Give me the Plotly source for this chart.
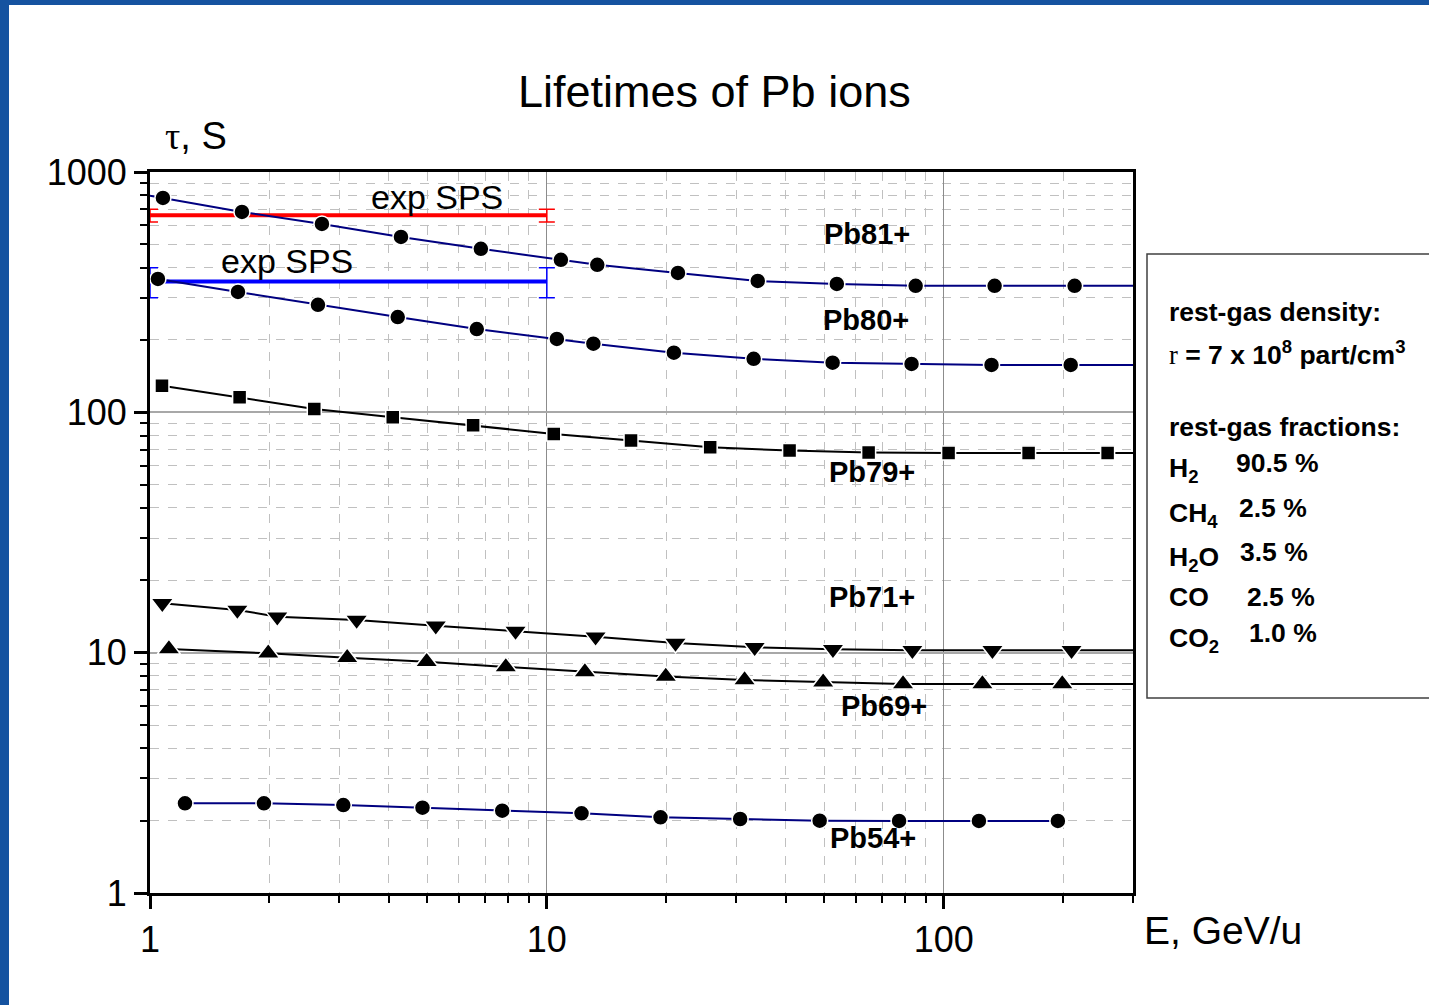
import math
import plotly.graph_objects as go

# ---------------- data: lifetime tau [s] vs energy E [GeV/u] ----------------
PB81_E = [1.078, 1.705, 2.712, 4.29, 6.82, 10.85, 13.4, 21.4, 34.0, 53.8, 85.0, 134.4, 213.8]
PB81_TAU = [780, 682, 608, 537, 479, 431, 411, 380, 352, 342, 336, 336, 336]
PB81_TAIL_E = [1.0, 300]
PB81_TAIL_TAU = [797, 336]

PB80_E = [1.047, 1.666, 2.65, 4.21, 6.66, 10.6, 13.1, 20.9, 33.2, 52.5, 83.0, 132, 209]
PB80_TAU = [359, 317, 280, 249, 222, 202, 193, 177, 167, 161, 159, 157.5, 157.5]
PB80_TAIL_E = [1.0, 300]
PB80_TAIL_TAU = [363, 157.5]

PB79_E = [1.072, 1.682, 2.594, 4.09, 6.52, 10.41, 16.3, 25.8, 40.9, 64.7, 102.9, 163.7, 258.9]
PB79_TAU = [129, 115.6, 103.3, 95.5, 88.4, 81.3, 76.3, 71.6, 69.3, 68.0, 67.8, 67.8, 67.8]
PB79_TAIL_E = [300]
PB79_TAIL_TAU = [67.8]

PB71_E = [1.074, 1.66, 2.093, 3.317, 5.25, 8.34, 13.27, 21.1, 33.4, 52.6, 83.4, 132.7, 210]
PB71_TAU = [16.05, 15.06, 14.12, 13.68, 12.95, 12.31, 11.66, 10.97, 10.53, 10.33, 10.23, 10.23, 10.23]
PB71_TAIL_E = [300]
PB71_TAIL_TAU = [10.23]

PB69_E = [1.116, 1.986, 3.14, 4.98, 7.88, 12.47, 19.94, 31.5, 49.7, 79.0, 125.2, 199]
PB69_TAU = [10.36, 9.94, 9.53, 9.17, 8.72, 8.31, 7.95, 7.70, 7.53, 7.41, 7.41, 7.41]
PB69_TAIL_E = [300]
PB69_TAIL_TAU = [7.41]

PB54_E = [1.225, 1.937, 3.07, 4.86, 7.72, 12.23, 19.34, 30.7, 48.7, 77.2, 122.7, 194]
PB54_TAU = [2.362, 2.362, 2.323, 2.265, 2.200, 2.146, 2.065, 2.032, 2.000, 1.994, 1.994, 1.994]
PB54_TAIL_E = []
PB54_TAIL_TAU = []

# measured SPS lifetimes (horizontal bands with error bars)
EXP_E = [1, 10]
EXP_RED_TAU = [660, 660]
EXP_RED_ERR = [40, 40]
EXP_BLUE_TAU = [350, 350]
EXP_BLUE_ERR = [50, 50]

X_TICKS = [1, 10, 100]
Y_TICKS = [1, 10, 100, 1000]
E_MAX = 300

GAS_ROWS = [
    ("H<sub>2</sub>", "90.5 %"),
    ("CH<sub>4</sub>", "2.5 %"),
    ("H<sub>2</sub>O", "3.5 %"),
    ("CO", "2.5 %"),
    ("CO<sub>2</sub>", "1.0 %"),
]

# ---------------- geometry helpers ----------------
W, H = 1429, 1005
PL, PR, PT, PB = 150, 1133, 172, 893


def paper(x, y):
    return (x - PL) / (PR - PL), (PB - y) / (PB - PT)


NAVY = "#000080"
FONT = "Arial, Liberation Sans, sans-serif"
SERIF = "Liberation Serif, Times New Roman, serif"

fig = go.Figure()

# experimental bands
for tau, err, col in [(EXP_RED_TAU, EXP_RED_ERR, "#ff0000"), (EXP_BLUE_TAU, EXP_BLUE_ERR, "#0000ff")]:
    fig.add_trace(go.Scatter(
        x=EXP_E, y=tau, mode="lines",
        line=dict(color=col, width=4),
        error_y=dict(type="data", array=err, visible=True, color=col, thickness=1.5, width=8),
        showlegend=False, hoverinfo="skip",
    ))

series = [
    (PB81_E, PB81_TAU, PB81_TAIL_E, PB81_TAIL_TAU, NAVY, "circle", 16),
    (PB80_E, PB80_TAU, PB80_TAIL_E, PB80_TAIL_TAU, NAVY, "circle", 16),
    (PB79_E, PB79_TAU, PB79_TAIL_E, PB79_TAIL_TAU, "black", "square", 14),
    (PB71_E, PB71_TAU, PB71_TAIL_E, PB71_TAIL_TAU, "black", "triangle-down", 20),
    (PB69_E, PB69_TAU, PB69_TAIL_E, PB69_TAIL_TAU, "black", "triangle-up", 20),
    (PB54_E, PB54_TAU, PB54_TAIL_E, PB54_TAIL_TAU, NAVY, "circle", 16),
]

for e, tau, te, tt, col, sym, size in series:
    pts = sorted(zip(list(e) + list(te), list(tau) + list(tt)))
    fig.add_trace(go.Scatter(
        x=[p[0] for p in pts], y=[p[1] for p in pts], mode="lines",
        line=dict(color=col, width=2), showlegend=False, hoverinfo="skip",
    ))
    fig.add_trace(go.Scatter(
        x=e, y=tau, mode="markers",
        marker=dict(symbol=sym, size=size, color="black", line=dict(color="white", width=1.5)),
        showlegend=False,
    ))

# ---------------- axes ----------------
x_minor = [m * 10 ** k for k in range(3) for m in range(2, 10) if m * 10 ** k <= E_MAX]
y_minor = [m * 10 ** k for k in range(3) for m in range(2, 10)]

axis_common = dict(
    type="log", showline=True, linecolor="black", linewidth=3, mirror=True,
    ticks="outside", ticklen=13, tickwidth=3, tickcolor="black",
    tickfont=dict(family=FONT, size=36, color="black"),
    zeroline=False,
)

fig.update_xaxes(
    **axis_common,
    range=[0, math.log10(E_MAX)],
    tickmode="array", tickvals=X_TICKS, ticktext=[str(v) for v in X_TICKS],
    showgrid=True, gridcolor="#8c8c8c", gridwidth=1,
    minor=dict(tickmode="array", tickvals=x_minor, ticks="outside", ticklen=7, tickwidth=2,
               tickcolor="black", showgrid=True, gridcolor="#c0c0c0", griddash="dash", gridwidth=1),
)
fig.update_yaxes(
    **axis_common,
    range=[0, 3],
    tickmode="array", tickvals=Y_TICKS, ticktext=[str(v) for v in Y_TICKS],
    showgrid=True, gridcolor="#a8a8a8", gridwidth=2,
    minor=dict(tickmode="array", tickvals=y_minor, ticks="outside", ticklen=7, tickwidth=2,
               tickcolor="black", showgrid=True, gridcolor="#c0c0c0", griddash="dash", gridwidth=1),
)

# ---------------- annotations ----------------
ann = []


def add_paper_text(x, y, text, size, bold=False, xanchor="center", yanchor="middle", family=FONT):
    px_, py_ = paper(x, y)
    ann.append(dict(
        xref="paper", yref="paper", x=px_, y=py_, text=text, showarrow=False,
        xanchor=xanchor, yanchor=yanchor,
        font=dict(family=family, size=size, color="black", weight="bold" if bold else "normal"),
    ))


def add_data_text(e, tau, text, size, bold=False):
    ann.append(dict(
        xref="x", yref="y", x=math.log10(e), y=math.log10(tau), text=text, showarrow=False,
        xanchor="center", yanchor="middle",
        font=dict(family=FONT, size=size, color="black", weight="bold" if bold else "normal"),
    ))


add_paper_text(714, 91, "Lifetimes of Pb ions", 45)
add_paper_text(196, 136, f'<span style="font-family:{SERIF}">τ</span>, S', 38)
add_paper_text(1142, 930, "E, GeV/u", 39, xanchor="left")

add_data_text(5.28, 788, "exp SPS", 34)
add_data_text(2.214, 427, "exp SPS", 34)

add_data_text(64, 553, "Pb81+", 29, bold=True)
add_data_text(63.6, 242, "Pb80+", 29, bold=True)
add_data_text(65.9, 56.5, "Pb79+", 29, bold=True)
add_data_text(65.9, 17.05, "Pb71+", 29, bold=True)
add_data_text(70.6, 6.0, "Pb69+", 29, bold=True)
add_data_text(66.2, 1.693, "Pb54+", 29, bold=True)

BOX_X = 1167
add_paper_text(BOX_X, 312, "rest-gas density:", 26.5, bold=True, xanchor="left")
add_paper_text(
    BOX_X, 353,
    f'<span style="font-family:{SERIF};font-weight:normal">r</span>'
    " = 7 x 10<sup>8</sup> part/cm<sup>3</sup>",
    26.5, bold=True, xanchor="left")
add_paper_text(BOX_X, 427, "rest-gas fractions:", 26.5, bold=True, xanchor="left")

row_y = [463, 508, 552, 597, 633]
val_x = [1234, 1237, 1238, 1245, 1247]
for (formula, value), y, vx in zip(GAS_ROWS, row_y, val_x):
    has_sub = "<sub>" in formula
    add_paper_text(BOX_X, y + (7 if has_sub else 0), formula, 26.5, bold=True, xanchor="left")
    add_paper_text(vx, y, value, 26.5, bold=True, xanchor="left")

# ---------------- frame decorations ----------------
shapes = []
bx0, by0 = paper(1147, 698)
bx1, by1 = paper(1440, 254)
shapes.append(dict(type="rect", xref="paper", yref="paper", x0=bx0, y0=by0, x1=bx1, y1=by1,
                   line=dict(color="#404040", width=1.5), fillcolor="rgba(0,0,0,0)"))
lx0, ly0 = paper(-5, H + 5)
lx1, ly1 = paper(9, -5)
shapes.append(dict(type="rect", xref="paper", yref="paper", x0=lx0, y0=ly0, x1=lx1, y1=ly1,
                   line=dict(width=0), fillcolor="#1553a0", layer="above"))
tx0, ty0 = paper(-5, 5)
tx1, ty1 = paper(W + 5, -5)
shapes.append(dict(type="rect", xref="paper", yref="paper", x0=tx0, y0=ty0, x1=tx1, y1=ty1,
                   line=dict(width=0), fillcolor="#1553a0", layer="above"))

fig.update_layout(
    width=W, height=H, autosize=False,
    margin=dict(l=PL, r=W - PR, t=PT, b=H - PB, pad=0),
    paper_bgcolor="white", plot_bgcolor="white",
    showlegend=False,
    annotations=ann, shapes=shapes,
    font=dict(family=FONT, color="black"),
)

fig.write_html("out.html")
